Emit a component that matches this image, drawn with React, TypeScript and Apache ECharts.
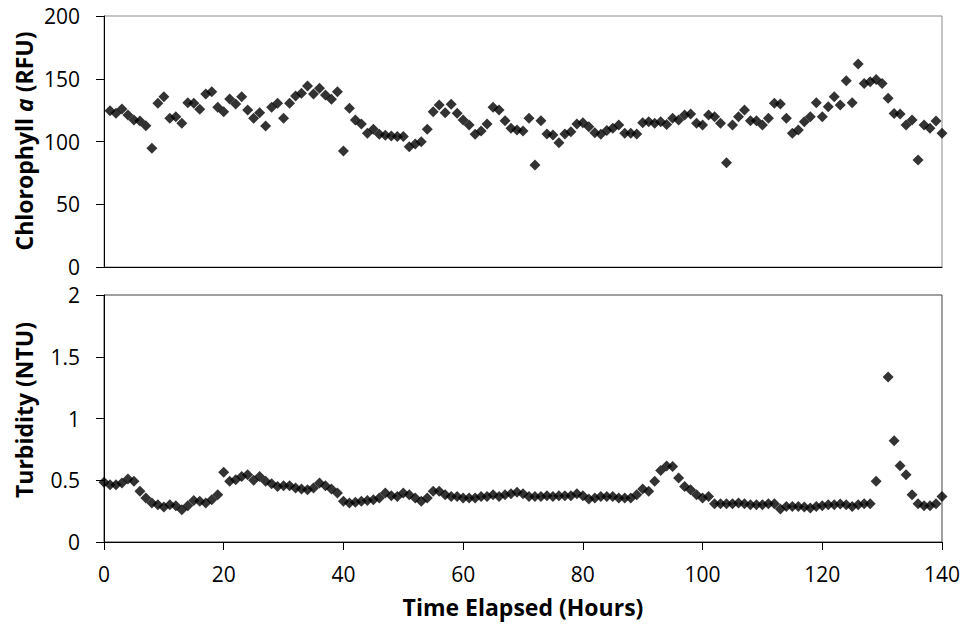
import React, { useEffect, useRef } from "react";
import * as echarts from "echarts";

// Chlorophyll a readings (RFU), one per hour from hour 1 to hour 140
const chlorophyll: number[] = [
  124.6, 122.5, 125.9, 121.1, 117.1, 116.3, 112.6, 94.6, 130.4, 135.7,
  118.5, 119.8, 114.5, 130.9, 130.4, 125.6, 137.8, 139.7, 127.2, 123.8,
  133.9, 129.9, 135.7, 125.1, 118.5, 123.0, 112.4, 127.2, 130.4, 118.5,
  130.4, 136.3, 138.4, 144.2, 137.8, 142.4, 137.1, 133.6, 139.7, 92.4,
  126.4, 117.1, 113.9, 106.5, 109.7, 105.7, 105.0, 104.4, 103.9, 103.9,
  95.9, 98.0, 99.9, 109.7, 123.8, 129.1, 123.0, 129.6, 122.5, 117.1,
  113.1, 105.7, 108.4, 113.9, 127.2, 125.1, 116.6, 110.5, 109.2, 108.4,
  118.5, 81.3, 116.6, 106.0, 105.2, 99.1, 106.0, 107.8, 113.9, 115.0,
  111.8, 107.0, 105.7, 108.7, 110.5, 113.1, 106.5, 106.5, 106.0, 115.0,
  115.8, 114.5, 115.8, 113.5, 118.5, 117.1, 121.1, 121.9, 114.5, 113.1,
  121.1, 119.8, 114.5, 83.1, 113.1, 119.8, 125.1, 116.6, 116.6, 113.1,
  118.5, 130.4, 129.9, 118.5, 106.5, 109.2, 115.8, 119.8, 130.9, 119.8,
  127.7, 135.7, 129.1, 148.4, 130.9, 161.8, 146.3, 147.6, 149.5, 146.3,
  134.4, 122.4, 121.9, 113.1, 117.1, 85.3, 113.1, 110.5, 116.3, 106.5,
];
const chlorophyllStartHour = 1;

// Turbidity readings (NTU), one per hour from hour 0 to hour 140 (hour 130 not recorded)
const turbidity: (number | null)[] = [
  0.483, 0.464, 0.464, 0.477, 0.51, 0.491, 0.41, 0.356, 0.316, 0.302,
  0.283, 0.302, 0.294, 0.262, 0.294, 0.337, 0.329, 0.316, 0.343, 0.383,
  0.564, 0.491, 0.504, 0.531, 0.545, 0.499, 0.531, 0.491, 0.472, 0.45,
  0.456, 0.456, 0.437, 0.429, 0.423, 0.437, 0.477, 0.456, 0.429, 0.397,
  0.329, 0.316, 0.321, 0.329, 0.337, 0.343, 0.356, 0.397, 0.375, 0.369,
  0.397, 0.383, 0.356, 0.329, 0.356, 0.41, 0.41, 0.383, 0.369, 0.369,
  0.356, 0.356, 0.356, 0.369, 0.369, 0.383, 0.369, 0.383, 0.391, 0.402,
  0.391, 0.369, 0.369, 0.369, 0.375, 0.369, 0.375, 0.375, 0.375, 0.391,
  0.375, 0.348, 0.356, 0.369, 0.369, 0.369, 0.356, 0.356, 0.356, 0.383,
  0.429, 0.41, 0.491, 0.578, 0.615, 0.612, 0.518, 0.45, 0.423, 0.383,
  0.356, 0.369, 0.31, 0.31, 0.31, 0.31, 0.316, 0.31, 0.302, 0.302,
  0.302, 0.31, 0.31, 0.267, 0.288, 0.288, 0.288, 0.283, 0.275, 0.288,
  0.294, 0.302, 0.302, 0.308, 0.302, 0.288, 0.302, 0.31, 0.31, 0.491,
  null, 1.336, 0.82, 0.618, 0.545, 0.383, 0.31, 0.294, 0.294, 0.31,
  0.369,
];
const turbidityStartHour = 0;

const FONT = "'Open Sans', 'Liberation Sans', sans-serif";
const TITLE_SIZE = 23;

function toPairs(values: (number | null)[], start: number): number[][] {
  const pairs: number[][] = [];
  values.forEach((v, i) => {
    if (v !== null) pairs.push([start + i, v]);
  });
  return pairs;
}

export default function App() {
  const ref = useRef<HTMLDivElement>(null);

  useEffect(() => {
    if (!ref.current) return;
    const chart = echarts.init(ref.current, undefined, { renderer: "svg" });

    const tickLabel = { color: "#000", fontSize: 21, fontFamily: FONT };
    const axisLine = { show: true, lineStyle: { color: "#000", width: 1 } };
    const tick = { show: true, inside: false, length: 8, lineStyle: { color: "#000" } };
    const marker = {
      type: "scatter",
      symbol: "diamond",
      symbolSize: 11,
      itemStyle: { color: "#000" },
    };

    chart.setOption({
      animation: false,
      backgroundColor: "#fff",
      grid: [
        { left: 104, top: 16, width: 838, height: 251, show: true, borderColor: "#8a8a8a", borderWidth: 1 },
        { left: 104, top: 295, width: 838, height: 247, show: true, borderColor: "#404040", borderWidth: 1 },
      ],
      xAxis: [
        {
          gridIndex: 0,
          type: "value",
          min: 0,
          max: 140,
          interval: 20,
          axisLine,
          axisTick: { show: false },
          axisLabel: { show: false },
          splitLine: { show: false },
        },
        {
          gridIndex: 1,
          type: "value",
          min: 0,
          max: 140,
          interval: 20,
          axisLine,
          axisTick: tick,
          axisLabel: { ...tickLabel, margin: 21 },
          splitLine: { show: false },
        },
      ],
      yAxis: [
        {
          gridIndex: 0,
          type: "value",
          min: 0,
          max: 200,
          interval: 50,
          axisLine,
          axisTick: tick,
          axisLabel: { ...tickLabel, margin: 24 },
          splitLine: { show: false },
        },
        {
          gridIndex: 1,
          type: "value",
          min: 0,
          max: 2,
          interval: 0.5,
          axisLine,
          axisTick: tick,
          axisLabel: { ...tickLabel, margin: 24 },
          splitLine: { show: false },
        },
      ],
      series: [
        {
          ...marker,
          name: "Chlorophyll a",
          xAxisIndex: 0,
          yAxisIndex: 0,
          data: toPairs(chlorophyll, chlorophyllStartHour),
        },
        {
          ...marker,
          name: "Turbidity",
          xAxisIndex: 1,
          yAxisIndex: 1,
          data: toPairs(turbidity, turbidityStartHour),
        },
      ],
      graphic: [
        {
          type: "text",
          x: 24,
          y: 141,
          rotation: Math.PI / 2,
          style: {
            text: "Chlorophyll {it|a} (RFU)",
            fill: "#000",
            font: `bold ${TITLE_SIZE}px ${FONT}`,
            textAlign: "center",
            textVerticalAlign: "middle",
            align: "center",
            verticalAlign: "middle",
            rich: {
              it: { fontStyle: "italic", fontWeight: "bold", fontSize: TITLE_SIZE, fontFamily: FONT, fill: "#000" },
            },
          },
        },
        {
          type: "text",
          x: 24,
          y: 410,
          rotation: Math.PI / 2,
          style: {
            text: "Turbidity (NTU)",
            fill: "#000",
            font: `bold ${TITLE_SIZE}px ${FONT}`,
            textAlign: "center",
            textVerticalAlign: "middle",
            align: "center",
            verticalAlign: "middle",
          },
        },
        {
          type: "text",
          x: 523,
          y: 607,
          style: {
            text: "Time Elapsed (Hours)",
            fill: "#000",
            font: `bold ${TITLE_SIZE}px ${FONT}`,
            textAlign: "center",
            textVerticalAlign: "middle",
            align: "center",
            verticalAlign: "middle",
          },
        },
      ],
    });

    return () => chart.dispose();
  }, []);

  return <div ref={ref} style={{ width: 963, height: 626, position: "absolute", left: 0, top: 0 }} />;
}
